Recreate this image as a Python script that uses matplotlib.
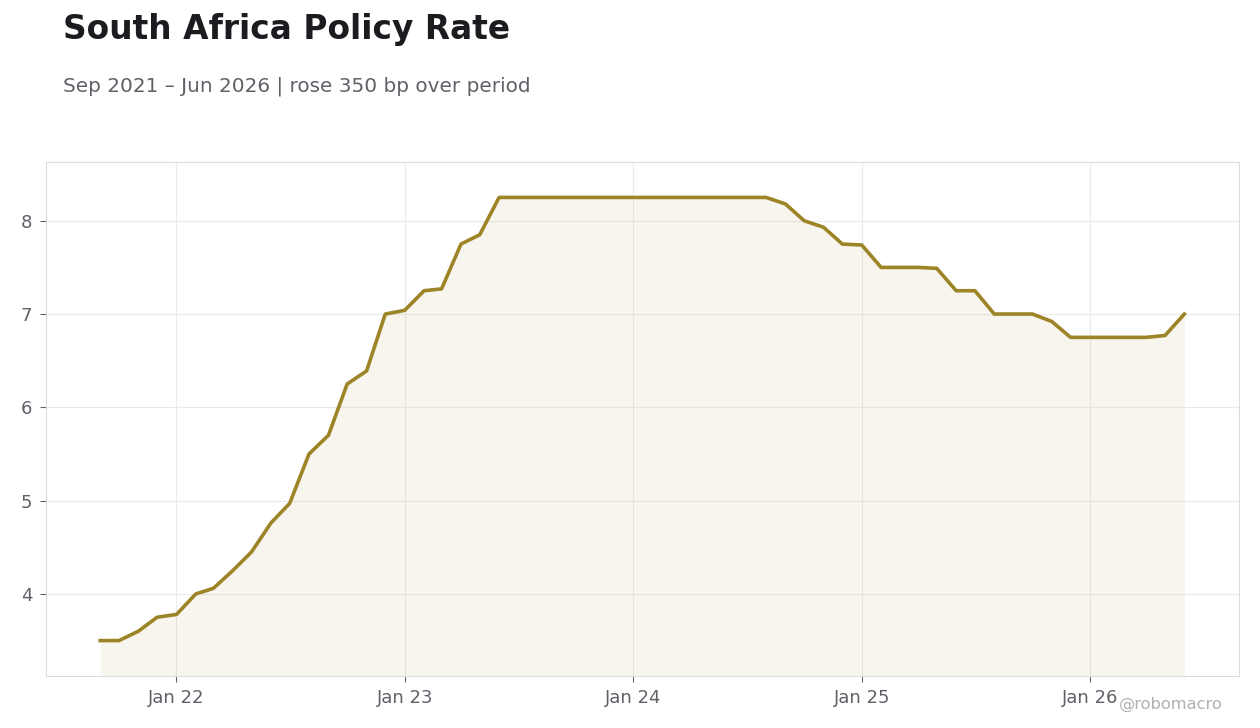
import numpy as np
import pandas as pd
import matplotlib
matplotlib.use("Agg")
import matplotlib.pyplot as plt
import matplotlib.dates as mdates

# monthly policy rate, Sep 2021 - Jun 2026
dates = pd.date_range("2021-09-01", "2026-06-01", freq="MS")
rate = [3.50, 3.50, 3.60, 3.75, 3.78, 4.00, 4.06, 4.25, 4.45, 4.76,
        4.97, 5.50, 5.70, 6.25, 6.39, 7.00, 7.04, 7.25, 7.27, 7.75,
        7.85, 8.25, 8.25, 8.25, 8.25, 8.25, 8.25, 8.25, 8.25, 8.25,
        8.25, 8.25, 8.25, 8.25, 8.25, 8.25, 8.18, 8.00, 7.93, 7.75,
        7.74, 7.50, 7.50, 7.50, 7.49, 7.25, 7.25, 7.00, 7.00, 7.00,
        6.92, 6.75, 6.75, 6.75, 6.75, 6.75, 6.77, 7.00]

title = "South Africa Policy Rate"
subtitle = "Sep 2021 \u2013 Jun 2026 | rose 350 bp over period"
credit = "@robomacro"

line_color = "#9c8427"
text_grey = "#5f6068"

fig = plt.figure(figsize=(12.6, 7.28), dpi=100)
ax = fig.add_axes([0.0365, 0.0714, 0.9465, 0.7061])

ax.plot(dates, rate, color=line_color, lw=2.6, zorder=3)
ax.fill_between(dates, rate, 3.12, color=line_color, alpha=0.08, lw=0, zorder=2)

ax.set_ylim(3.12, 8.63)
ax.set_yticks([4, 5, 6, 7, 8])
ax.xaxis.set_major_locator(mdates.YearLocator())
ax.xaxis.set_major_formatter(mdates.DateFormatter("Jan %y"))

ax.grid(True, color="#ebebeb", lw=0.8)
ax.set_axisbelow(True)
for s in ax.spines.values():
    s.set_color("#dcdce0")
ax.tick_params(colors=text_grey, labelsize=13, length=4, width=0.8, pad=5)
ax.tick_params(axis="y", pad=6)

fig.text(0.05, 0.982, title, fontsize=23.7, fontweight="bold", color="#1c1c20", va="top")
fig.text(0.05, 0.882, subtitle, fontsize=14.4, color=text_grey, va="center")
fig.text(0.97, 0.032, credit, fontsize=11.7, color="#b0b0b4", ha="right", va="center")

fig.savefig("out.png", dpi=100, facecolor="white")
